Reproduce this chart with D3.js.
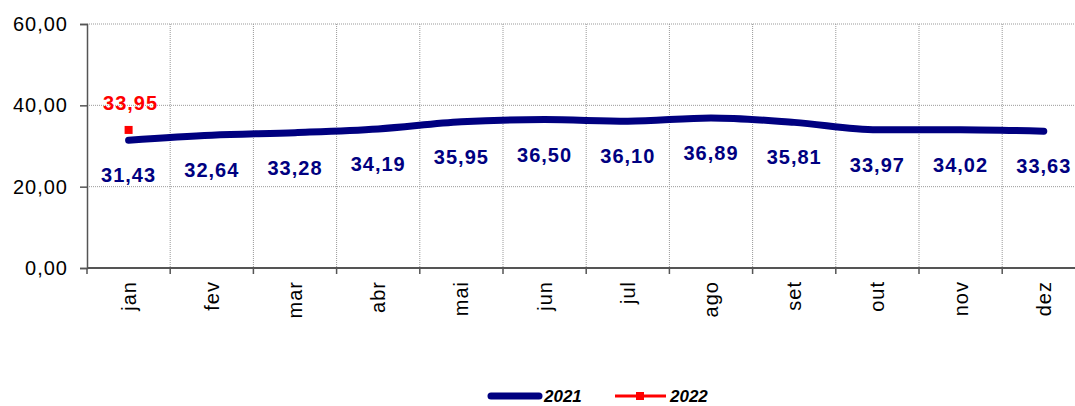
<!DOCTYPE html>
<html>
  <head>
    <style>
      body,
      html {
        margin: 0;
        padding: 0;
        background: #fff;
        overflow: hidden;
      }
      text {
        font-family: Arial, 'Liberation Sans', sans-serif;
      }
    </style>
  </head>
  <body>
    <svg id="svg" width="1075" height="406"></svg>
    <script src="https://cdn.jsdelivr.net/npm/d3@7"></script>
    <script>
      const months = ['jan', 'fev', 'mar', 'abr', 'mai', 'jun', 'jul', 'ago', 'set', 'out', 'nov', 'dez'];
      const values2021 = [31.43, 32.64, 33.28, 34.19, 35.95, 36.5, 36.1, 36.89, 35.81, 33.97, 34.02, 33.63];
      const values2022 = [33.95];
      const yTicks = [0, 20, 40, 60];

      const fmt = (v) => v.toFixed(2).replace('.', ',');

      const plotLeft = 87;
      const band = 83.2;
      const plotTop = 24;
      const plotBottom = 268;

      const svg = d3.select('#svg');

      const xScale = d3
        .scaleBand()
        .domain(months)
        .range([plotLeft, plotLeft + band * months.length])
        .padding(0);

      const yScale = d3.scaleLinear().domain([0, 60]).range([plotBottom, plotTop]);

      const cx = (m) => xScale(m) + xScale.bandwidth() / 2;

      // grid
      const grid = svg.append('g');
      grid
        .selectAll('line.h')
        .data(yTicks.filter((d) => d > 0))
        .enter()
        .append('line')
        .attr('x1', plotLeft)
        .attr('x2', 1075)
        .attr('y1', (d) => yScale(d))
        .attr('y2', (d) => yScale(d))
        .attr('stroke', '#999')
        .attr('stroke-width', 1)
        .attr('stroke-dasharray', '1,1');
      grid
        .selectAll('line.v')
        .data(months.slice(1))
        .enter()
        .append('line')
        .attr('x1', (d) => xScale(d))
        .attr('x2', (d) => xScale(d))
        .attr('y1', plotTop)
        .attr('y2', plotBottom)
        .attr('stroke', '#999')
        .attr('stroke-width', 1)
        .attr('stroke-dasharray', '1,1');

      // y axis
      const yAxis = svg
        .append('g')
        .attr('transform', `translate(${plotLeft},0)`)
        .call(
          d3
            .axisLeft(yScale)
            .tickValues(yTicks)
            .tickSize(7)
            .tickPadding(12)
            .tickFormat(fmt)
        );
      yAxis.select('.domain').attr('stroke', '#555').attr('stroke-width', 1.5);
      yAxis.selectAll('.tick line').attr('stroke', '#555').attr('stroke-width', 1.5);
      yAxis
        .selectAll('.tick text')
        .attr('font-size', 20)
        .attr('letter-spacing', 1)
        .attr('fill', '#000')
        .style('font-family', 'Arial, "Liberation Sans", sans-serif');

      // x axis
      const xAxis = svg.append('g').attr('transform', `translate(0,${plotBottom})`);
      xAxis
        .append('line')
        .attr('x1', plotLeft)
        .attr('x2', 1075)
        .attr('stroke', '#555')
        .attr('stroke-width', 2);
      xAxis
        .selectAll('line.tk')
        .data(months.concat(['end']))
        .enter()
        .append('line')
        .attr('x1', (d, i) => plotLeft + i * band)
        .attr('x2', (d, i) => plotLeft + i * band)
        .attr('y1', 0)
        .attr('y2', 6)
        .attr('stroke', '#555')
        .attr('stroke-width', 1.5);
      xAxis
        .selectAll('text')
        .data(months)
        .enter()
        .append('text')
        .attr('transform', (d) => `translate(${cx(d) + 7},13) rotate(-90)`)
        .attr('text-anchor', 'end')
        .attr('font-size', 20)
        .attr('letter-spacing', 1)
        .attr('fill', '#000')
        .text((d) => d);

      // 2021 line
      const data2021 = months.map((m, i) => ({ m, v: values2021[i] }));
      const linegen = d3
        .line()
        .x((d) => cx(d.m))
        .y((d) => yScale(d.v))
        .curve(d3.curveMonotoneX);

      svg
        .append('path')
        .attr('d', linegen(data2021))
        .attr('fill', 'none')
        .attr('stroke', '#000080')
        .attr('stroke-width', 7)
        .attr('stroke-linecap', 'round')
        .attr('stroke-linejoin', 'round');

      svg
        .append('g')
        .selectAll('text')
        .data(data2021)
        .enter()
        .append('text')
        .attr('x', (d) => cx(d.m))
        .attr('y', (d) => yScale(d.v) + 42)
        .attr('text-anchor', 'middle')
        .attr('font-size', 20)
        .attr('letter-spacing', 1)
        .attr('font-weight', 'bold')
        .attr('fill', '#000080')
        .text((d) => fmt(d.v));

      // 2022 point
      const data2022 = values2022.map((v, i) => ({ m: months[i], v }));
      const g22 = svg.append('g');
      g22
        .selectAll('rect')
        .data(data2022)
        .enter()
        .append('rect')
        .attr('x', (d) => cx(d.m) - 4)
        .attr('y', (d) => yScale(d.v) - 4)
        .attr('width', 8)
        .attr('height', 8)
        .attr('fill', '#ff0000');
      g22
        .selectAll('text')
        .data(data2022)
        .enter()
        .append('text')
        .attr('x', (d) => cx(d.m) + 2)
        .attr('y', (d) => yScale(d.v) - 20)
        .attr('text-anchor', 'middle')
        .attr('font-size', 20)
        .attr('letter-spacing', 1)
        .attr('font-weight', 'bold')
        .attr('fill', '#ff0000')
        .text((d) => fmt(d.v));

      // legend
      const legend = svg.append('g').attr('transform', 'translate(0,396)');
      legend
        .append('line')
        .attr('x1', 491)
        .attr('x2', 539)
        .attr('stroke', '#000080')
        .attr('stroke-width', 7)
        .attr('stroke-linecap', 'round');
      legend
        .append('text')
        .attr('x', 544)
        .attr('y', 6)
        .attr('font-size', 17)
        .attr('font-weight', 'bold')
        .attr('font-style', 'italic')
        .text('2021');
      legend
        .append('line')
        .attr('x1', 615)
        .attr('x2', 666)
        .attr('stroke', '#ff0000')
        .attr('stroke-width', 3);
      legend
        .append('rect')
        .attr('x', 636)
        .attr('y', -4)
        .attr('width', 8)
        .attr('height', 8)
        .attr('fill', '#ff0000');
      legend
        .append('text')
        .attr('x', 670)
        .attr('y', 6)
        .attr('font-size', 17)
        .attr('font-weight', 'bold')
        .attr('font-style', 'italic')
        .text('2022');
    </script>
  </body>
</html>
